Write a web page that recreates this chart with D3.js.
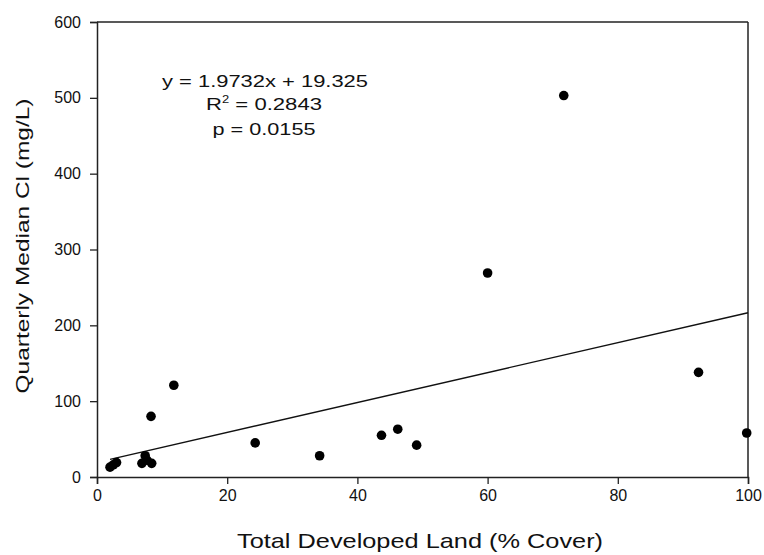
<!DOCTYPE html>
<html>
  <head>
    <meta charset="utf-8">
    <script src="https://d3js.org/d3.v7.min.js"></script>
    <style>
      body { margin: 0; background: #fff; }
      text { font-family: "Liberation Sans", Arial, sans-serif; fill: #111; }
    </style>
  </head>
<body>
<script type="text/javascript">
// developed land (% cover) vs quarterly median Cl (mg/L)
var landCover = [2.0, 2.5, 3.0, 6.9, 7.4, 7.7, 8.4, 8.3, 11.8, 24.3, 34.2, 43.7, 46.2, 49.1, 60.0, 71.7, 92.4, 99.8];
var medianCl  = [13, 16, 19, 18, 28, 22, 18, 80, 121, 45, 28, 55, 63, 42, 269, 503, 138, 58];
var xTicks = [0, 20, 40, 60, 80, 100];
var yTicks = [0, 100, 200, 300, 400, 500, 600];
var slope = 1.9732, intercept = 19.325;
var statLines = ["y = 1.9732x + 19.325", "R2 = 0.2843", "p = 0.0155"];

var width = 764, height = 555;
var margin = {left: 97, right: 16, top: 22, bottom: 78};

var svg = d3.select("body").append("svg")
    .attr("width", width)
    .attr("height", height);

var x = d3.scaleLinear().domain([0, 100]).range([margin.left, width - margin.right]);
var y = d3.scaleLinear().domain([0, 600]).range([height - margin.bottom, margin.top]);

// axes
var xAxis = svg.append("g")
    .attr("transform", "translate(0," + y(0) + ")")
    .call(d3.axisBottom(x).tickValues(xTicks).tickSize(7).tickPadding(6));
var yAxis = svg.append("g")
    .attr("transform", "translate(" + x(0) + ",0)")
    .call(d3.axisLeft(y).tickValues(yTicks).tickSize(7).tickPadding(9));

[xAxis, yAxis].forEach(function (g) {
  g.select(".domain").attr("stroke", "#222").attr("stroke-width", 1.5);
  g.selectAll(".tick line").attr("stroke", "#222").attr("stroke-width", 1.3);
  g.selectAll(".tick text")
    .style("font-size", "16px")
    .attr("fill", "#111");
});

// top and right frame
svg.append("line")
    .attr("x1", x(0)).attr("x2", x(100))
    .attr("y1", y(600)).attr("y2", y(600))
    .attr("stroke", "#222").attr("stroke-width", 1.5);
svg.append("line")
    .attr("x1", x(100)).attr("x2", x(100))
    .attr("y1", y(600)).attr("y2", y(0))
    .attr("stroke", "#222").attr("stroke-width", 1.5);

// regression line
var xmin = d3.min(landCover), xmax = 100;
svg.append("line")
    .attr("x1", x(xmin)).attr("y1", y(slope * xmin + intercept))
    .attr("x2", x(xmax)).attr("y2", y(slope * xmax + intercept))
    .attr("stroke", "#111").attr("stroke-width", 1.4);

// points
svg.selectAll("circle.pt")
    .data(d3.range(landCover.length))
    .enter()
    .append("circle")
    .attr("class", "pt")
    .attr("cx", function (i) { return x(landCover[i]); })
    .attr("cy", function (i) { return y(medianCl[i]); })
    .attr("r", 4.8)
    .attr("fill", "#000");

// stats text, a bit stretched sideways like the original
var stats = svg.append("g");
stats.append("text")
    .attr("x", 265).attr("y", 87)
    .attr("text-anchor", "middle")
    .attr("textLength", 206).attr("lengthAdjust", "spacingAndGlyphs")
    .style("font-size", "17px")
    .text(statLines[0]);
var r2 = stats.append("text")
    .attr("transform", "translate(264,110) scale(1.3,1)")
    .attr("text-anchor", "middle")
    .style("font-size", "17px");
r2.append("tspan").text("R");
r2.append("tspan").attr("dy", -7).style("font-size", "10px").text("2");
r2.append("tspan").attr("dy", 7).text(" = 0.2843");
stats.append("text")
    .attr("x", 264).attr("y", 135)
    .attr("text-anchor", "middle")
    .attr("textLength", 103).attr("lengthAdjust", "spacingAndGlyphs")
    .style("font-size", "17px")
    .text(statLines[2]);

// axis titles
svg.append("text")
    .attr("x", 420).attr("y", 548)
    .attr("text-anchor", "middle")
    .attr("textLength", 366).attr("lengthAdjust", "spacingAndGlyphs")
    .style("font-size", "21px")
    .text("Total Developed Land (% Cover)");

svg.append("text")
    .attr("transform", "translate(29,246) rotate(-90)")
    .attr("text-anchor", "middle")
    .attr("textLength", 295).attr("lengthAdjust", "spacingAndGlyphs")
    .style("font-size", "19px")
    .text("Quarterly Median Cl (mg/L)");
</script>
</body>
</html>
